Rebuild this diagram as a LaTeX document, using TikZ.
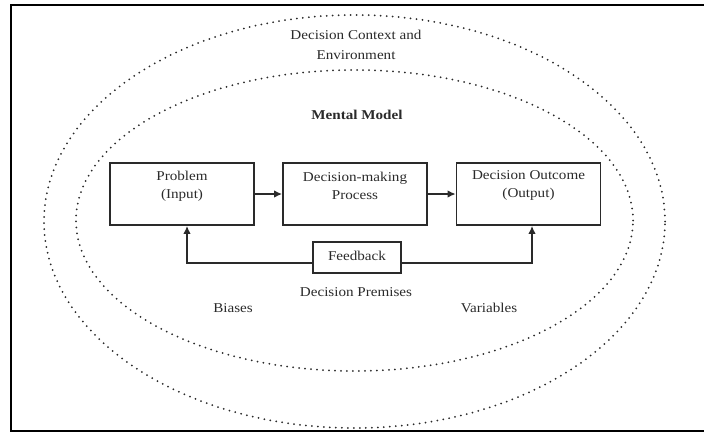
\documentclass[tikz,border=0pt]{standalone}
\usepackage{fontspec}
\setmainfont{Liberation Serif}[FakeStretch=1.12]
\usetikzlibrary{arrows.meta}
\definecolor{ink}{HTML}{2A2A2A}
\tikzset{
  frame/.style={line width=2.2pt, draw=black},
  dotring/.style={draw=ink, line width=2pt, line cap=round, dash pattern=on 0pt off 6pt},
  stagebox/.style={draw=ink, line width=1.7pt, minimum width=144pt, minimum height=62pt, inner sep=0pt},
  fbbox/.style={draw=ink, line width=1.7pt, minimum width=88pt, minimum height=31pt, inner sep=0pt},
  txt/.style={text=ink, align=center, inner sep=0pt, font=\fontsize{13.5}{18}\selectfont},
  arr/.style={draw=ink, line width=1.7pt, -{Latex[length=8pt,width=7.5pt]}}
}
\begin{document}
\begin{tikzpicture}[x=1pt, y=-1pt]
  \useasboundingbox (0,0) rectangle (704,433);
  % open frame round the figure
  \draw[frame] (706,5) -- (11,5) -- (11,431) -- (706,431);

  % context and mental-model rings
  \draw[dotring] (354.5,221.5) ellipse [x radius=310.5pt, y radius=206.5pt];
  \draw[dotring] (354.5,220.5) ellipse [x radius=278.5pt, y radius=150.5pt];

  \node[txt, font=\fontsize{13.5}{20}\selectfont] (ctx) at (356,45) {Decision Context and\\Environment};
  \node[txt, font=\fontsize{13.5}{18}\bfseries\selectfont] (mm) at (357,115) {Mental Model};

  % the three stages
  \node[stagebox] (prob) at (182,194) {};
  \node[stagebox] (dm)   at (355,194) {};
  \node[stagebox] (out)  at (528.5,194) {};
  \node[txt] (probt) at (182,186) {Problem\\(Input)};
  \node[txt] (dmt)   at (355,185.5) {Decision-making\\Process};
  \node[txt] (outt)  at (528.5,185.5) {Decision Outcome\\(Output)};

  \draw[arr] (prob) -- (dm);
  \draw[arr] (dm) -- (out);

  % feedback loop
  \node[fbbox] (fb) at (357,257.5) {};
  \node[txt] (fbt) at (357,256) {Feedback};
  \draw[arr] ([yshift=-5.5pt]fb.west) -| ([xshift=5pt]prob.south);
  \draw[arr] ([yshift=-5.5pt]fb.east) -| ([xshift=3.5pt]out.south);

  % premises
  \node[txt] (prem) at (356,292) {Decision Premises};
  \node[txt] (bias) at (233,308) {Biases};
  \node[txt] (vars) at (489,308) {Variables};
\end{tikzpicture}
\end{document}
